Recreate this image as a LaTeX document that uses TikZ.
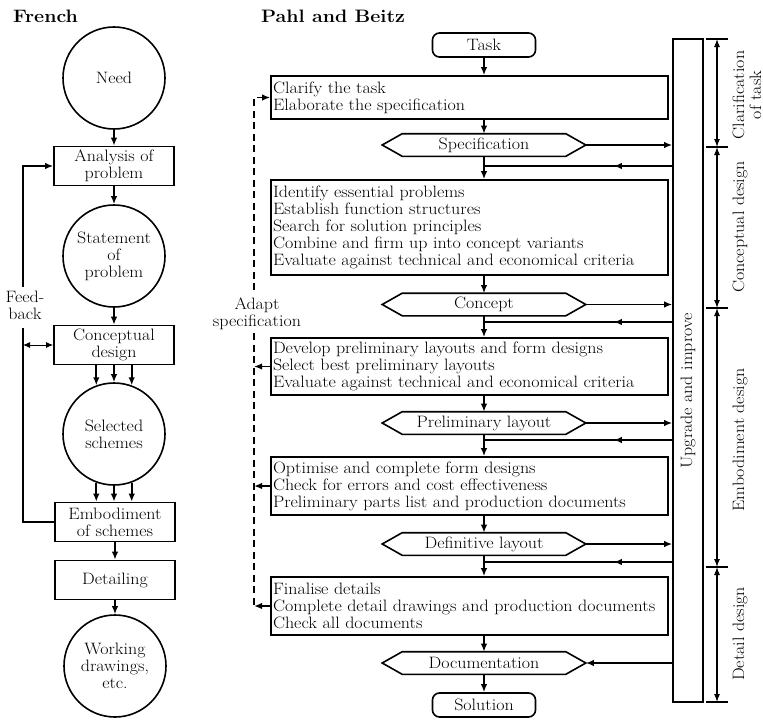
\documentclass[tikz,border=0pt]{standalone}
\usepackage{fontspec}
\setmainfont{Latin Modern Roman}[FakeStretch=1.09]
\usetikzlibrary{arrows.meta,decorations.markings}
\begin{document}
\begin{tikzpicture}[x=1pt,y=-1pt,line width=1.6pt,
  every node/.style={font=\fontsize{16.5}{17}\selectfont},
  fbox/.style={draw,rectangle,minimum width=120,minimum height=39,align=center,inner sep=1pt},
  fcirc/.style={draw,circle,minimum size=102,align=center,inner sep=0pt},
  pbox/.style={draw,rectangle,text width=393,inner xsep=2pt,inner ysep=2pt,align=left},
  hexn/.style={rectangle,minimum width=202,minimum height=21,inner sep=0pt},
  term/.style={draw,rectangle,rounded corners=7pt,minimum width=103,minimum height=24,inner sep=0pt},
  arr/.style={-{Latex[length=8pt,width=6.5pt]}},
  dim/.style={{Latex[length=8pt,width=6pt]}-{Latex[length=8pt,width=6pt]},line width=1.1pt},
  adapt/.style={dash pattern=on 7pt off 4.5pt,line width=1.7pt},
  midarr/.style={postaction={decorate},decoration={markings,
      mark=at position 0.31 with {\arrow{Latex[length=8pt,width=6.5pt]}}}},
  title/.style={anchor=base west,font=\bfseries\fontsize{18}{22}\selectfont}]
\useasboundingbox (0,0) rectangle (763,720);
\fill[white] (0,0) rectangle (763,720);

% ---------- headings ----------
\node[title] (tfr) at (9,22) {French};
\node[title] (tpb) at (257,22) {Pahl and Beitz};

% ---------- French model ----------
\node[fcirc] (need) at (114,78) {Need};
\node[fbox] (anal) at (114,166) {Analysis of\\problem};
\node[fcirc] (stmt) at (114,256) {Statement\\of\\problem};
\node[fbox] (concep) at (114,345) {Conceptual\\design};
\node[fcirc] (sel) at (114,434) {Selected\\schemes};
\node[fbox] (embod) at (115,522) {Embodiment\\of schemes};
\node[fbox] (detail) at (115,580) {Detailing};
\node[fcirc] (work) at (115,666) {Working\\drawings,\\etc.};

\draw[arr] (need.south) -- (anal.north -| need.south);
\draw[arr] (anal.south -| stmt.north) -- (stmt.north);
\draw[arr] (stmt.south) -- (concep.north -| stmt.south);
\foreach \a in {110,90,70}
  \draw[arr] (concep.south -| sel.\a) -- (sel.\a);
\foreach \a in {250,270,290}
  \draw[arr] (sel.\a) -- (sel.\a |- embod.north);
\draw[arr] (embod.south) -- (detail.north);
\draw[arr] (detail.south) -- (work.north);

% feedback loop
\coordinate (fbx) at (23,0);
\coordinate (fbtop) at (23,287);
\coordinate (fbbot) at (23,328);
\draw[arr] (fbtop) |- (anal.west);
\draw (embod.west) -| (fbbot);
\node[align=center] (fbtxt) at (25,305) {Feed-\\back};
\draw[{Latex[length=7pt,width=6pt]}-{Latex[length=7pt,width=6pt]},line width=1pt] (fbx |- concep.west) -- (concep.west);

% ---------- Pahl and Beitz model ----------
\node[term] (task) at (484,45) {Task};
\node[pbox,minimum height=43] (clar) at (469.5,97.5)
  {Clarify the task\\Elaborate the specification};
\node[hexn] (spec) at (484,145) {Specification};
\node[pbox,minimum height=95] (ident) at (469.5,227.5)
  {Identify essential problems\\Establish function structures\\Search for solution principles\\Combine and firm up into concept variants\\Evaluate against technical and economical criteria};
\node[hexn] (conc) at (484,304.5) {Concept};
\node[pbox,minimum height=57] (devel) at (469.5,366.5)
  {Develop preliminary layouts and form designs\\Select best preliminary layouts\\Evaluate against technical and economical criteria};
\node[hexn] (prel) at (484,423) {Preliminary layout};
\node[pbox,minimum height=58] (optim) at (469.5,486)
  {Optimise and complete form designs\\Check for errors and cost effectiveness\\Preliminary parts list and production documents};
\node[hexn] (defl) at (484,544) {Definitive layout};
\node[pbox,minimum height=58] (fin) at (469.5,606)
  {Finalise details\\Complete detail drawings and production documents\\Check all documents};
\node[hexn] (docu) at (484,663) {Documentation};
\node[term] (sol) at (484,705) {Solution};

% hexagonal outlines of the result nodes
\foreach \h in {spec,conc,prel,defl,docu}
  \draw ([xshift=20pt]\h.north west) -- ([xshift=-20pt]\h.north east) -- (\h.east)
    -- ([xshift=-20pt]\h.south east) -- ([xshift=20pt]\h.south west) -- (\h.west) -- cycle;

% main flow
\draw[arr] (task.south) -- (task.south |- clar.north);
\draw[arr] (clar.south -| spec.north) -- (spec.north);
\draw[arr] (spec.south) -- (spec.south |- ident.north);
\draw[arr] (ident.south -| conc.north) -- (conc.north);
\draw[arr] (conc.south) -- (conc.south |- devel.north);
\draw[arr] (devel.south -| prel.north) -- (prel.north);
\draw[arr] (prel.south) -- (prel.south |- optim.north);
\draw[arr] (optim.south -| defl.north) -- (defl.north);
\draw[arr] (defl.south) -- (defl.south |- fin.north);
\draw[arr] (fin.south -| docu.north) -- (docu.north);
\draw[arr] (docu.south) -- (sol.north);

% upgrade and improve loop
\node[draw,rectangle,minimum width=30,minimum height=663,inner sep=0pt] (bar) at (688,370.5) {};
\node[rotate=90] (bartxt) at (688,391) {Upgrade and improve};
\foreach \h in {spec,conc,prel,defl}
  \draw[arr] (\h.east) -- (\h.east -| bar.west);
\coordinate (ret1) at (484,166);
\coordinate (ret2) at (484,322);
\coordinate (ret3) at (484,440);
\coordinate (ret4) at (484,562);
\foreach \r in {ret1,ret2,ret3,ret4}
  \draw[midarr] (\r -| bar.west) -- (\r);
\draw[arr] (docu.east -| bar.west) -- (docu.east);

% adapt specification loop
\coordinate (dl) at (254,0);
\coordinate (dtop) at (254,290);
\coordinate (dbot) at (254,333);
\coordinate (dend) at (254,607);
\draw[adapt,arr] (dtop) |- (clar.west);
\draw[adapt] (dbot) -- (dend);
\foreach \b in {devel,optim,fin}
  \draw[arr] (\b.west) -- (\b.west -| dl);
\node[align=center] (adtxt) at (257,314) {Adapt\\specification};

% phases
\coordinate (d0) at (717,39);
\coordinate (d1) at (717,147);
\coordinate (d2) at (717,308);
\coordinate (d3) at (717,567);
\coordinate (d4) at (717,702);
\draw[dim] (d0) -- (d1);
\draw[dim] (d1) -- (d2);
\draw[dim] (d2) -- (d3);
\draw[dim] (d3) -- (d4);
\foreach \d in {d0,d1,d2,d3,d4}
  \draw[line width=1.1pt] ([xshift=-11pt]\d) -- ([xshift=11pt]\d);
\node[rotate=90,align=center] (lclar) at (747,95) {Clarification\\of task};
\node[rotate=90] (lconc) at (740,227) {Conceptual design};
\node[rotate=90] (lemb) at (740,440) {Embodiment design};
\node[rotate=90] (ldet) at (740,634) {Detail design};
\end{tikzpicture}
\end{document}
